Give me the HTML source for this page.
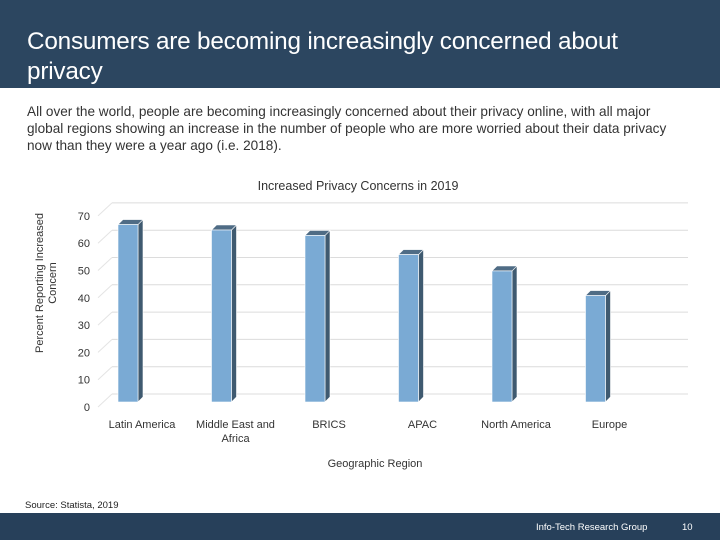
<!DOCTYPE html>
<html><head><meta charset="utf-8"><style>
body{margin:0;width:720px;height:540px;overflow:hidden;background:#fff;font-family:"Liberation Sans",sans-serif;position:relative}
.hdr{position:absolute;left:0;top:0;width:720px;height:88px;background:#2c4660}
.ttl{position:absolute;left:27px;top:27px;color:#fff;font-size:24.3px;line-height:30px;letter-spacing:-0.2px}
.body{position:absolute;left:27px;top:103px;width:675px;font-size:13.6px;line-height:17px;color:#333;letter-spacing:0}
.ftr{position:absolute;left:0;top:513px;width:720px;height:27px;background:#27405a}
.src{position:absolute;left:25px;top:500px;font-size:9.5px;color:#222}
.ft1{position:absolute;left:536px;top:522px;font-size:9.5px;color:#fff}
.ft2{position:absolute;left:682px;top:522px;font-size:9.5px;color:#fff}
</style></head><body>
<div class="hdr"></div>
<div class="ttl">Consumers are becoming increasingly concerned about<br>privacy</div>
<div class="body">All over the world, people are becoming increasingly concerned about their privacy online, with all major<br>global regions showing an increase in the number of people who are more worried about their data privacy<br>now than they were a year ago (i.e. 2018).</div>
<svg id="chart" width="720" height="540" style="position:absolute;left:0;top:0"></svg>
<div class="src">Source: Statista, 2019</div>
<div class="ftr"></div>
<div class="ft1">Info-Tech Research Group</div>
<div class="ft2">10</div>
<script>
const categories=["Latin America","Middle East and|Africa","BRICS","APAC","North America","Europe"];
const values=[65,63,61,54,48,39];
const ticks=[0,10,20,30,40,50,60,70];
const NS="http://www.w3.org/2000/svg";
const svg=document.getElementById('chart');
function mk(t,a,txt){const e=document.createElementNS(NS,t);for(const k in a)e.setAttribute(k,a[k]);if(txt!=null)e.textContent=txt;svg.appendChild(e);return e;}
const y0=394,pu=2.73,backL=112,backR=688,dx=-14,dy=13;
function yB(v){return y0-v*pu;}
function xC(i){return 128+i*93.5;}
ticks.forEach(t=>{
 const g=mk('line',{x1:backL,y1:yB(t),x2:backR,y2:yB(t),stroke:'#dcdcdc','stroke-width':1});
 
 const d=mk('line',{x1:backL,y1:yB(t),x2:backL+dx,y2:yB(t)+dy,stroke:'#e4e4e4','stroke-width':1});
 
 const l=mk('text',{x:90,y:yB(t)+dy+4,'text-anchor':'end','font-size':11,fill:'#333'},String(t));
 
});
const bw=20,sd=5,base=402;
values.forEach((v,i)=>{
 const x=xC(i)-bw/2,top=base-v*pu;
 const s=mk('polygon',{points:`${x+bw},${top} ${x+bw+sd},${top-5} ${x+bw+sd},${base-5} ${x+bw},${base}`,fill:'#3f5a70',stroke:'#fff','stroke-width':0.6});
 
 const tp=mk('polygon',{points:`${x},${top} ${x+sd},${top-5} ${x+bw+sd},${top-5} ${x+bw},${top}`,fill:'#4f6c85',stroke:'#fff','stroke-width':0.6});
 
 const r=mk('rect',{x:x,y:top,width:bw,height:base-top,fill:'#7aaad4',stroke:'#fff','stroke-width':0.6});
 
 categories[i].split('|').forEach((ln,j)=>{
  const t=mk('text',{x:xC(i)+14,y:428+j*14,'text-anchor':'middle','font-size':11,fill:'#333'},ln);
  
 });
});
const tt=mk('text',{x:358,y:190,'text-anchor':'middle','font-size':12.5,fill:'#333'},'Increased Privacy Concerns in 2019');

const xt=mk('text',{x:375,y:467,'text-anchor':'middle','font-size':11,fill:'#333'},'Geographic Region');

const ya=mk('text',{transform:'translate(43,283) rotate(-90)','text-anchor':'middle','font-size':11,fill:'#333'},'Percent Reporting Increased');

const yb=mk('text',{transform:'translate(56,283) rotate(-90)','text-anchor':'middle','font-size':11,fill:'#333'},'Concern');

</script>
</body></html>
